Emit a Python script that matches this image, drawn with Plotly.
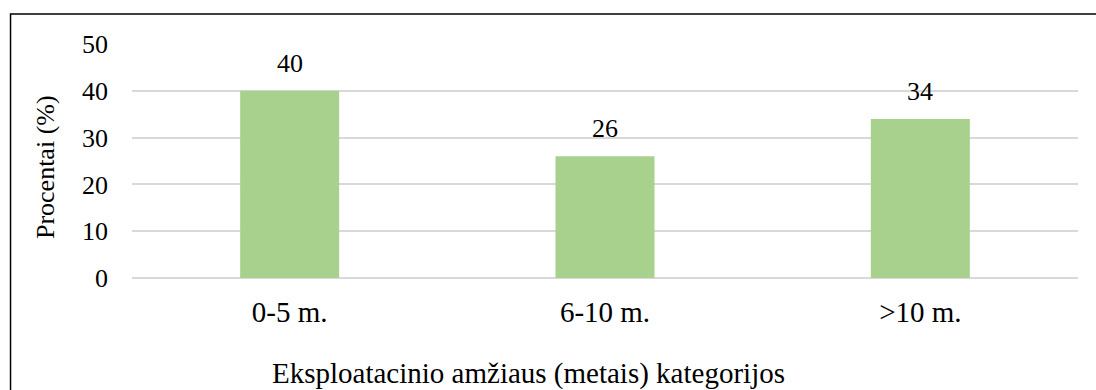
import plotly.graph_objects as go

categories = ["0-5 m.", "6-10 m.", ">10 m."]
values = [40, 26, 34]
y_ticks = [0, 10, 20, 30, 40, 50]

FONT = "Liberation Serif"
BAR_COLOR = "#A9D18E"

fig = go.Figure()
fig.add_trace(go.Bar(
    x=categories, y=values,
    marker=dict(color=BAR_COLOR, line=dict(width=0)),
    width=0.314,
    hoverinfo="skip",
))

# value labels above each bar
for c, v in zip(categories, values):
    fig.add_annotation(
        x=c, y=v, text=str(v), showarrow=False,
        yanchor="bottom", yshift=11,
        font=dict(family=FONT, size=26, color="#000000"),
    )

# axis titles
fig.add_annotation(
    xref="paper", yref="paper", x=-0.092, y=0.474,
    text="Procentai (%)", textangle=-90, showarrow=False,
    xanchor="center", yanchor="middle",
    font=dict(family=FONT, size=26, color="#000000"),
)
fig.add_annotation(
    xref="paper", yref="paper", x=0.419, y=-0.41,
    text="Eksploatacinio amžiaus (metais) kategorijos", showarrow=False,
    xanchor="center", yanchor="middle",
    font=dict(family=FONT, size=29, color="#000000"),
)

# chart frame
fig.add_shape(
    type="rect", xref="paper", yref="paper",
    x0=-0.1284, y0=-1.0, x1=1.2, y1=1.128,
    line=dict(color="#000000", width=1.5),
    fillcolor="rgba(0,0,0,0)", layer="above",
)

fig.update_layout(
    width=1096, height=390,
    margin=dict(l=132, r=18, t=44, b=112),
    paper_bgcolor="#ffffff", plot_bgcolor="#ffffff",
    showlegend=False,
    font=dict(family=FONT, size=26, color="#000000"),
    xaxis=dict(
        showgrid=False, zeroline=False, showline=False,
        ticks="", ticklabelstandoff=14,
        tickfont=dict(family=FONT, size=29, color="#000000"),
    ),
    yaxis=dict(
        range=[0, 50], tickvals=y_ticks,
        showgrid=True, gridcolor="#D9D9D9", gridwidth=1.5,
        zeroline=True, zerolinecolor="#D9D9D9", zerolinewidth=1.5,
        showline=False, ticks="", ticklabelstandoff=23,
        tickfont=dict(family=FONT, size=26, color="#000000"),
    ),
)

fig.write_html("out.html", config={"displayModeBar": False})
